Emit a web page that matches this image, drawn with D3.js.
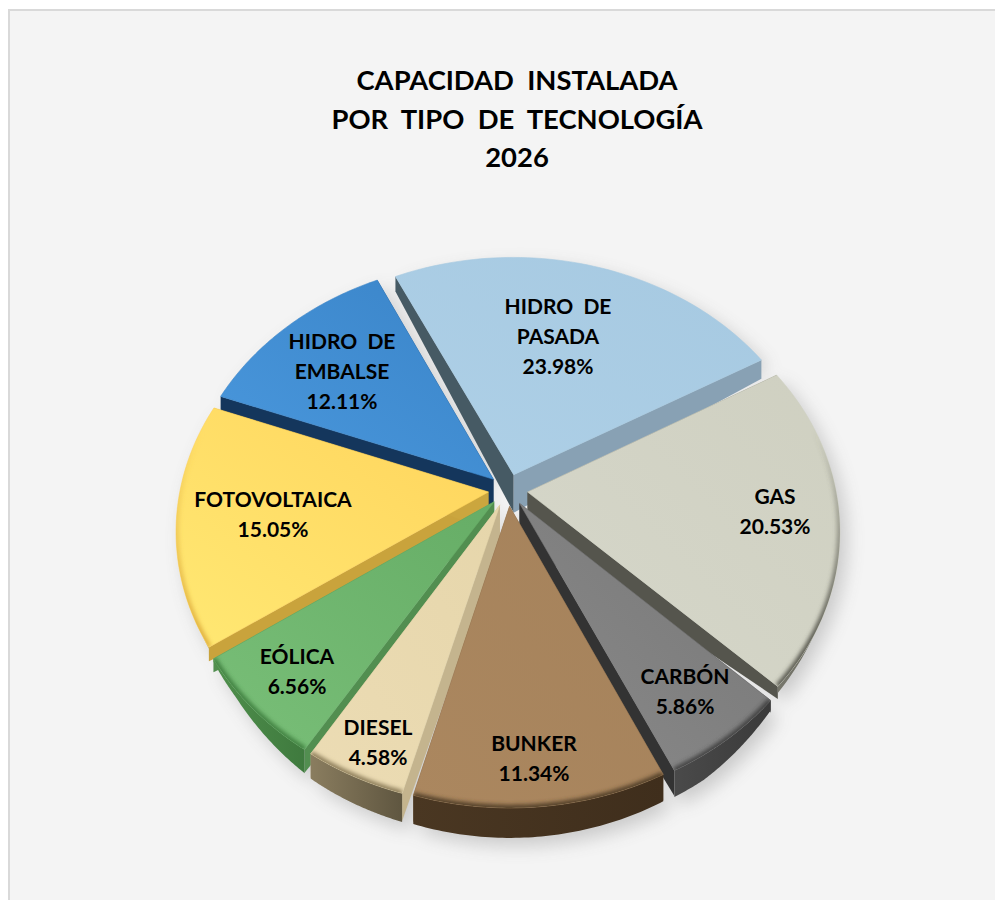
<!DOCTYPE html>
<html><head><meta charset="utf-8">
<script src="https://cdnjs.cloudflare.com/ajax/libs/d3/7.8.5/d3.min.js"></script>
<style>html,body{margin:0;padding:0;background:#fff}svg{display:block}text{font-family:Lato,"Open Sans",sans-serif;font-weight:700;fill:#000;white-space:pre}</style>
</head><body><div id="c"></div>
<script>
const categories=["HIDRO  DE|PASADA","GAS","CARBÓN","BUNKER","DIESEL","EÓLICA","FOTOVOLTAICA","HIDRO  DE|EMBALSE"];
const shares=[23.98,20.53,5.86,11.34,4.58,6.56,15.05,12.11];
const titleLines=["CAPACIDAD  INSTALADA","POR  TIPO  DE  TECNOLOGÍA","2026"];
const faceLight=["#aed0e7","#d6d7ca","#8a8a8a","#ab875f","#ecdcb4","#79bf78","#ffe873","#4a98dd"];
const faceDark=["#a6c9e1","#cfd0c1","#777777","#a5825b","#e6d6ab","#66ad66","#ffd45c","#3a84c8"];
const wallStart=["#465a64","#55554d","#3d3d3d","#4f3c27","#c4b48e","#528e50","#c9a33c","#14365c"];
const wallEnd=["#88a1b4","#55554d","#333333","#6e5638","#c4b48e","#528e50","#cba63e","#14365c"];
const rimA=["#8aa3b5","#77776c","#4a4a4a","#4a3722","#8a7d5f","#4f8f4c","#d6ad40","#1d4f82"];
const rimB=["#7a92a4","#66665c","#3a3a3a","#3f2e1c","#5f5640","#3f7a3e","#c9a33c","#14365c"];
const bevel=["#6f8ca0","#55554c","#3f3f3f","#4f3c27","#8b7c58","#3f8040","#e0b040","#1f5a94"];
const labelAt=[[558,337],[775,512],[685,692],[534,759],[378,743],[297,672],[273,515],[342,372]];

const W=995,H=900,cx=508,cy=490,sx=328,sy=269,k=0.154,expl=0.06,rad=0.94;
const apexDepth=38;
const cutDepth=d3.scaleLinear().domain([-1,-0.5,0,0.6,0.7,0.85,1]).range([14,19,22,13,12,24,29]);
const rimDepth=d3.scaleLinear().domain([-1,0.5,0.667,0.855,1]).range([0,0,7,25,30]).clamp(true);
const project=(x,y,dz=0)=>{const d=1-k*y;return [cx+sx*x/d,cy+sy*y/d+dz];};

const svg=d3.select("#c").append("svg").attr("width",W).attr("height",H);
const defs=svg.append("defs");
defs.append("filter").attr("id","blurS").attr("x","-20%").attr("y","-20%").attr("width","140%").attr("height","140%")
  .append("feGaussianBlur").attr("stdDeviation",9);
defs.append("filter").attr("id","blurB").attr("x","-20%").attr("y","-20%").attr("width","140%").attr("height","140%")
  .append("feGaussianBlur").attr("stdDeviation",2.2);

svg.append("rect").attr("x",9).attr("y",10).attr("width",W).attr("height",H).attr("fill","#f4f4f4").attr("stroke","#d9d9d9").attr("stroke-width",2);

const start=-26.2*Math.PI/180, warp=0.5*Math.PI/180;
const pie=d3.pie().sort(null).startAngle(start).endAngle(start+2*Math.PI);
const arcs=pie(shares);
const line=d3.line();
const slices=arcs.map((a,i)=>{
  const mid=(a.startAngle+a.endAngle)/2;
  const ox=expl*Math.sin(mid),oy=-expl*Math.cos(mid);
  const ang=d3.range(0,61).map(j=>a.startAngle+(a.endAngle-a.startAngle)*j/60);
  const pts=ang.map(t0=>{const t=t0+warp*Math.cos(t0);return [ox+rad*Math.sin(t),oy-rad*Math.cos(t)];});
  return {i,mid,ox,oy,pts,order:oy-rad*0.6*Math.cos(mid)};
});
const order=slices.slice().sort((a,b)=>a.order-b.order);

const shadow=svg.append("g").attr("filter","url(#blurS)").attr("opacity",.26).attr("transform","translate(7,8)");
slices.forEach(s=>{
  const b=s.pts.map(p=>project(p[0],p[1],rimDepth(p[1])));
  shadow.append("path").attr("d",line([project(s.ox,s.oy),...b])+"Z").attr("fill","#555");
});

slices.forEach(s=>{
  const g=defs.append("linearGradient").attr("id","f"+s.i).attr("x1","0").attr("y1","1").attr("x2","1").attr("y2","0");
  g.append("stop").attr("offset","0").attr("stop-color",faceLight[s.i]);
  g.append("stop").attr("offset","1").attr("stop-color",faceDark[s.i]);
  const r=defs.append("linearGradient").attr("id","r"+s.i).attr("x1","0").attr("y1","0").attr("x2","1").attr("y2","0");
  r.append("stop").attr("offset","0").attr("stop-color",rimA[s.i]);
  r.append("stop").attr("offset","1").attr("stop-color",rimB[s.i]);
  const b=defs.append("linearGradient").attr("id","b"+s.i).attr("gradientUnits","userSpaceOnUse")
    .attr("x1",0).attr("y1",430).attr("x2",0).attr("y2",640);
  b.append("stop").attr("offset","0").attr("stop-color",bevel[s.i]).attr("stop-opacity",0);
  b.append("stop").attr("offset","1").attr("stop-color",bevel[s.i]).attr("stop-opacity",1);
});

const layer=svg.append("g");
order.forEach(s=>{
  const i=s.i;
  const g=layer.append("g");
  const A=project(s.ox,s.oy),AB=project(s.ox,s.oy,apexDepth);
  const n=s.pts.length-1;
  const top=s.pts.map(p=>project(p[0],p[1]));
  const base=s.pts.map(p=>project(p[0],p[1],rimDepth(p[1])));
  const c0=project(s.pts[0][0],s.pts[0][1],cutDepth(s.pts[0][1]));
  const c1=project(s.pts[n][0],s.pts[n][1],cutDepth(s.pts[n][1]));
  g.append("path").attr("d",line([A,top[0],c0,AB])+"Z").attr("fill",wallStart[i]);
  g.append("path").attr("d",line([A,top[n],c1,AB])+"Z").attr("fill",wallEnd[i]);
  g.append("path").attr("d",line([...top,...base.slice().reverse()])+"Z").attr("fill",`url(#r${i})`);
  const face=line([A,...top])+"Z";
  defs.append("clipPath").attr("id","c"+i).append("path").attr("d",face);
  g.append("path").attr("d",face).attr("fill",`url(#f${i})`).attr("stroke",faceDark[i]).attr("stroke-width",.6);
  g.append("g").attr("clip-path",`url(#c${i})`).append("path")
    .attr("d",line(top)).attr("fill","none").attr("stroke",`url(#b${i})`).attr("stroke-width",6).attr("filter","url(#blurB)");
});

const labels=svg.append("g").attr("text-anchor","middle");
categories.forEach((c,i)=>{
  const lines=c.split("|").concat(shares[i].toFixed(2)+"%");
  const t=labels.append("text").attr("font-size",21);
  const y0=labelAt[i][1]-(lines.length-1)*30/2+7;
  lines.forEach((l,j)=>t.append("tspan").attr("x",labelAt[i][0]).attr("y",y0+j*30).text(l));
});
const title=svg.append("text").attr("text-anchor","middle").attr("font-size",27.4);
titleLines.forEach((l,j)=>title.append("tspan").attr("x",517).attr("y",90+j*38.7).text(l));
</script></body></html>
